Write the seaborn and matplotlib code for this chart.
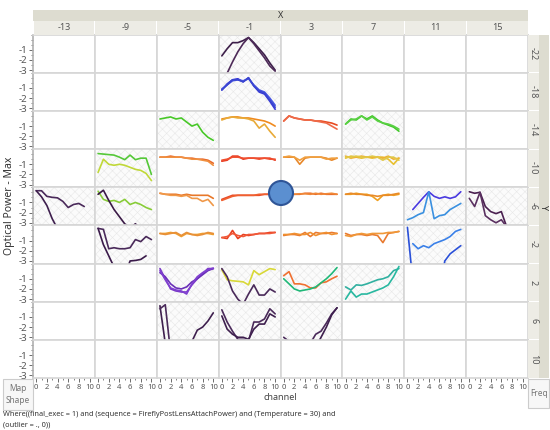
import numpy as np
import pandas as pd
import seaborn as sns
import matplotlib.pyplot as plt
from matplotlib.patches import Rectangle, Ellipse

sns.set_theme(style="white")
plt.rcParams['font.family'] = ['Noto Sans', 'DejaVu Sans']
plt.rcParams['axes.unicode_minus'] = False
plt.rcParams['hatch.linewidth'] = 0.4

# facet levels
x_levels = [-13, -9, -5, -1, 3, 7, 11, 15]
y_levels = [-22, -18, -14, -10, -6, -2, 2, 6, 10]
channel = list(range(11))

# one entry per drawn line: facet X, facet Y, power per channel
line_x = [-1, -1,
          -1, -1, -1,
          -5, -1, -1, 3, 3, 7, 7,
          -9, -9, -5, -5, -1, -1, 3, 3, 7, 7, 7,
          -13, -13, -9, -9, -5, -5, -1, -1, 3, 3, 7, 7, 11, 11, 15, 15,
          -9, -9, -5, -5, -1, -1, 3, 3, 7, 7, 11, 11,
          -5, -5, -5, -1, -1, 3, 3, 7, 7,
          -5, -5, -1, -1, 3, 3]
line_y = [-22, -22,
          -18, -18, -18,
          -14, -14, -14, -14, -14, -14, -14,
          -10, -10, -10, -10, -10, -10, -10, -10, -10, -10, -10,
          -6, -6, -6, -6, -6, -6, -6, -6, -6, -6, -6, -6, -6, -6, -6, -6,
          -2, -2, -2, -2, -2, -2, -2, -2, -2, -2, -2, -2,
          2, 2, 2, 2, 2, 2, 2, 2, 2,
          6, 6, 6, 6, 6, 6]
nan = np.nan
line_power = [
    # Y = -22
    [-1.6, -0.9, -0.3, -0.3, -0.1, 0.2, -0.3, -0.9, -1.5, -2.3, -3.0],
    [-4.5, -3.3, -2.2, -1.2, -0.4, 0.2, -0.4, -1.1, -1.8, -2.6, -3.1],
    # Y = -18
    [-1.2, -0.6, -0.2, -0.1, -0.4, 0.0, -0.8, -1.4, -1.6, -2.3, -3.1],
    [-1.1, -0.7, -0.3, -0.2, -0.3, -0.1, -0.7, -1.2, -1.4, -2.0, -2.7],
    [-1.2, -0.7, -0.2, -0.2, -0.4, 0.0, -0.8, -1.3, -1.5, -2.2, -2.9],
    # Y = -14
    [-0.3, -0.2, -0.1, -0.3, -0.2, -0.6, -1.0, -0.8, -1.6, -2.1, -2.4],
    [-0.3, -0.2, -0.1, -0.1, -0.2, -0.2, -0.3, -0.4, -0.5, -0.7, -1.0],
    [-0.4, -0.2, -0.1, -0.2, -0.2, -0.3, -0.5, -1.2, -0.8, -1.5, -2.1],
    [-0.5, 0.0, -0.2, -0.3, -0.4, -0.4, -0.5, -0.5, -0.6, -0.7, -0.9],
    [-0.5, 0.0, -0.2, -0.3, -0.4, -0.4, -0.5, -0.6, -0.7, -1.0, -1.3],
    [-0.8, -0.3, -0.4, 0.0, -0.3, 0.0, -0.4, -0.7, -0.9, -1.1, -1.5],
    [-0.8, -0.4, -0.3, 0.0, -0.4, -0.1, -0.5, -0.7, -0.8, -1.0, -1.3],
    # Y = -10
    [0.05, 0.0, -0.05, -0.1, -0.3, -0.55, -0.1, -0.55, -0.4, -0.4, -2.0],
    [-1.8, -0.5, -1.0, -1.1, -1.0, -1.1, -1.3, -1.5, -1.6, -1.9, -2.6],
    [-0.3, -0.3, -0.2, -0.3, -0.3, -0.4, -0.4, -0.5, -0.5, -0.6, -0.9],
    [-0.3, -0.3, -0.3, -0.3, -0.3, -0.4, -0.5, -0.5, -0.6, -0.7, -1.1],
    [-0.7, -0.6, -0.2, -0.2, -0.5, -0.4, -0.4, -0.4, -0.4, -0.4, -0.6],
    [-0.6, -0.5, -0.3, -0.3, -0.4, -0.4, -0.4, -0.5, -0.4, -0.5, -0.5],
    [-0.3, -0.3, -0.3, -1.0, -0.4, -0.3, -0.3, -0.3, -0.4, -0.6, -0.4],
    [-0.3, -0.2, -0.3, -0.6, -0.3, -0.3, -0.3, -0.3, -0.5, -0.4, -0.4],
    [-0.4, -0.2, -0.3, -0.4, -0.3, -0.4, -0.3, -0.3, -0.5, -1.0, -0.4],
    [-0.2, -0.4, -0.3, -0.2, -0.3, -0.3, -0.3, -0.4, -0.2, -0.5, -0.4],
    [-0.3, -0.3, -0.2, -0.3, -0.3, -0.2, -0.3, -0.6, -0.3, -0.3, -0.6],
    # Y = -6
    [0.15, 0.15, -0.4, -0.5, -0.55, -0.9, -1.5, -1.2, -1.1, -1.4, nan],
    [0.15, -0.45, -1.3, -2.6, -3.6, nan, nan, nan, nan, nan, nan],
    [0.1, -0.7, -0.9, -0.8, -1.0, -0.7, -1.2, -1.0, -1.2, -1.5, -1.7],
    [-0.2, 0.2, -0.8, -1.7, -2.4, -3.1, -3.5, -3.1, -3.6, nan, nan],
    [-0.1, -0.2, -0.2, -0.2, -0.3, -0.2, -0.3, -0.3, -0.3, -0.3, -0.6],
    [-0.1, -0.2, -0.3, -0.3, -0.4, -0.3, -0.6, -0.6, -0.9, -0.7, -1.3],
    [-0.7, -0.5, -0.3, -0.3, -0.3, -0.3, -0.3, -0.3, -0.2, -0.2, -0.2],
    [-0.8, -0.6, -0.4, -0.3, -0.3, -0.3, -0.3, -0.2, -0.2, -0.2, -0.2],
    [-0.1, -0.2, -0.2, -0.2, -0.1, -0.1, -0.2, -0.1, -0.2, -0.2, -0.2],
    [-0.15, -0.15, -0.2, -0.15, -0.15, -0.2, -0.1, -0.2, -0.15, -0.1, -0.2],
    [-0.2, -0.2, -0.1, -0.2, -0.2, -0.4, -0.8, -0.3, -0.2, -0.3, -0.2],
    [-0.2, -0.1, -0.2, -0.2, -0.3, -0.3, -0.4, -0.3, -0.3, -0.2, -0.1],
    [nan, -1.7, -1.1, -0.5, 0.05, -0.4, -0.6, -0.45, -0.6, -0.45, 0.05],
    [-2.7, -2.5, -2.2, -2.0, 0.05, -2.6, -2.3, -2.2, -1.7, -1.4, -1.1],
    [0.05, -0.1, 0.0, -1.4, -1.9, -2.1, -1.9, -3.4, -3.8, nan, nan],
    [-0.6, -1.4, 0.0, -2.3, -2.7, -3.0, -2.7, -3.4, -3.8, nan, nan],
    # Y = -2
    [0.2, 0.1, -1.8, -1.7, -1.8, -1.8, -1.7, -0.9, -1.1, -0.6, -0.9],
    [0.2, -1.4, -2.5, -3.6, -4.5, -4.5, -3.0, -2.95, -2.85, -2.5, nan],
    [-0.3, -0.3, -0.2, -0.3, -0.6, -0.3, -0.4, -0.4, -0.3, -0.3, -0.4],
    [-0.3, -0.4, -0.3, -0.2, -0.5, -0.2, -0.4, -0.5, -0.4, -0.2, -0.3],
    [-0.7, -0.8, 0.0, -0.8, -0.4, -0.5, -0.4, -0.3, -0.3, -0.2, -0.2],
    [-0.7, -0.6, -0.3, -0.5, -0.6, -0.4, -0.4, -0.3, -0.3, -0.3, -0.2],
    [-0.5, -0.4, -0.4, -0.5, -0.2, -0.6, -0.2, -0.3, -0.3, -0.2, -0.3],
    [-0.4, -0.4, -0.3, -0.4, -0.4, -0.2, -0.5, -0.3, -0.2, -0.4, -0.3],
    [-0.3, -0.5, -0.4, -0.4, -0.5, -0.4, -0.5, -1.2, -0.3, -0.2, -0.1],
    [-0.5, -0.6, -0.4, -0.3, -0.4, -0.3, -0.3, -0.3, -0.2, -0.2, -0.1],
    [0.3, -5.0, -6.0, -6.0, -6.0, -6.0, -6.0, -3.0, -2.3, -1.9, -1.5],
    [nan, -1.3, -1.8, -1.5, -1.7, -1.3, -1.1, -0.9, -0.6, -0.1, 0.1],
    # Y = 2
    [0.0, -1.0, -2.0, -2.2, -2.3, -2.3, -1.6, -1.0, -0.5, 0.0, 0.0],
    [-0.4, -0.8, -1.5, -1.9, -2.0, -1.8, -1.3, -1.0, -0.6, -0.2, 0.0],
    [-0.2, -1.1, -1.9, -2.1, -2.2, -2.5, -1.5, -0.8, -0.4, -0.1, 0.05],
    [-0.1, -1.1, -1.2, -1.25, -1.3, -1.6, -0.2, -0.6, -0.3, 0.0, -0.1],
    [0.0, -0.8, -2.2, -3.0, -3.5, -2.5, -1.6, -2.6, -2.6, -2.0, -2.3],
    [-0.7, -0.3, -1.5, -1.5, -1.6, -1.9, -1.9, -1.4, -1.3, -1.0, -0.75],
    [-1.0, -1.5, -2.0, -2.2, -2.1, -2.0, -1.8, -1.4, -1.0, -0.5, 0.1],
    [-1.8, -2.1, -1.6, -1.65, -1.5, -1.3, -1.1, -1.0, -0.8, -0.2, 0.0],
    [-3.0, -2.2, -2.8, -2.5, -2.5, -2.3, -2.1, -1.9, -1.6, -0.8, 0.2],
    # Y = 6
    [0.1, -3.6, -5.0, -5.0, -5.0, -5.0, -3.4, -2.3, -2.0, -1.4, -0.6],
    [-0.2, 0.2, -4.5, nan, nan, nan, nan, nan, nan, nan, nan],
    [-0.3, -1.5, -2.4, -3.2, -3.2, -3.4, -1.5, -1.5, -1.2, -0.2, -0.7],
    [-0.9, -2.2, -2.7, -3.0, -3.0, -3.2, -2.2, -1.7, -1.7, -0.7, -1.0],
    [-3.0, -3.4, -4.5, -5.0, -5.0, -3.6, -2.7, -2.4, -1.6, -0.7, -0.1],
    [nan, nan, nan, nan, nan, nan, -4.0, -3.0, -2.0, -0.8, -0.1],
]
line_color = [
    '#3d1f4a', '#4d2a58',
    '#3535d8', '#4a58e4', '#3a45d0',
    '#48c828', '#f08a1e', '#e8aa38', '#e84a20', '#ee6a48', '#40c828', '#5ad044',
    '#55c838', '#c0d838', '#e8682a', '#f09040', '#e83a20', '#f05030',
    '#e8882a', '#f0a040', '#e8c030', '#f0b030', '#e0c848',
    '#4a2a5a', '#3e1f4e', '#88cc38', '#3a1a46', '#e8782a', '#f09848',
    '#e84a28', '#f06030', '#e86a28', '#f08838', '#f0a020', '#e88a28',
    '#4a3ae0', '#3a90e0', '#4a2050', '#5a3060',
    '#4a2a5a', '#3a1a4a', '#f0a030', '#e89038', '#e84020', '#f05838',
    '#e87a30', '#f09030', '#e87a30', '#f09838', '#2a50d8', '#3a80e8',
    '#7a38c8', '#6a30b8', '#8040d0', '#d8d838', '#4a2a5a', '#f07030',
    '#20b878', '#30b0a0', '#28b8a0',
    '#3e1f4e', '#4a2a5a', '#4a2a5a', '#3e1f4e', '#4a2a5a', '#3e1f4e',
]
shaded_cells = [(-1, -22), (-1, -18), (-5, -14), (7, -14), (-9, -10), (7, -10),
                (-13, -6), (-9, -6), (11, -6), (15, -6), (-9, -2), (11, -2),
                (-5, 2), (-1, 2), (3, 2), (7, 2), (-5, 6), (-1, 6), (3, 6)]

rows = []
for i, (cx, cy, vals) in enumerate(zip(line_x, line_y, line_power)):
    for ch, v in zip(channel, vals):
        rows.append({'X': cx, 'Y': cy, 'line': 'L%d' % i, 'channel': ch, 'power': v})
df = pd.DataFrame(rows)
palette = {'L%d' % i: c for i, c in enumerate(line_color)}

W, H = 550, 430
L, R, T, B = 33, 528, 34.5, 378


def fx(x):
    return x / W


def fy(y):
    return 1 - y / H


fig = plt.figure(figsize=(5.5, 4.3), dpi=100)
gs = fig.add_gridspec(len(y_levels), len(x_levels), left=fx(L), right=fx(R),
                      top=fy(T), bottom=fy(B), wspace=0, hspace=0)
axes = gs.subplots(sharex=True, sharey=True)

for r, yv in enumerate(y_levels):
    for c, xv in enumerate(x_levels):
        ax = axes[r, c]
        if (xv, yv) in shaded_cells:
            ax.add_patch(Rectangle((0, 0), 1, 1, transform=ax.transAxes, facecolor='#fbfbfb',
                                   edgecolor='#e8e8e8', hatch='xxxx', lw=0, zorder=0))
        sub = df[(df.X == xv) & (df.Y == yv)].dropna()
        if len(sub):
            sns.lineplot(data=sub, x='channel', y='power', hue='line', palette=palette,
                         legend=False, lw=1.2, ax=ax, zorder=3)
        ax.set_xlabel('')
        ax.set_ylabel('')
        for s in ax.spines.values():
            s.set_color('#d6d6d6')
            s.set_linewidth(1.2)
        ax.tick_params(length=0)

ax0 = axes[0, 0]
ax0.set_xlim(-0.6, 11.0)
ax0.set_ylim(-3.25, 0.5)
ax0.set_yticks([-1, -2, -3])
ax0.set_yticks(np.arange(-3, 0.51, 0.5), minor=True)
ax0.set_xticks([0, 2, 4, 6, 8, 10])
ax0.set_xticks(range(11), minor=True)
for r in range(len(y_levels)):
    axes[r, 0].tick_params(axis='y', which='both', left=True, labelleft=True,
                           labelsize=7, colors='#555555', pad=1)
    axes[r, 0].tick_params(axis='y', which='major', length=3, width=0.6)
    axes[r, 0].tick_params(axis='y', which='minor', length=1.5, width=0.5)
    axes[r, 0].spines['left'].set_color('#b0b0b0')
for c in range(len(x_levels)):
    axes[-1, c].tick_params(axis='x', which='both', bottom=True, labelbottom=True,
                            labelsize=5.5, colors='#555555', pad=1)
    axes[-1, c].tick_params(axis='x', which='major', length=3, width=0.6)
    axes[-1, c].tick_params(axis='x', which='minor', length=1.5, width=0.5)

# header strips
fig.add_artist(Rectangle((fx(L), fy(21)), fx(R - L), 11 / H, transform=fig.transFigure,
                         facecolor='#dddcd0', edgecolor='none'))
fig.text(fx((L + R) / 2), fy(15.5), 'X', ha='center', va='center', fontsize=6.5,
         fontweight='bold', color='#333333')
cw = (R - L) / len(x_levels)
for c, xv in enumerate(x_levels):
    x0 = L + c * cw
    fig.add_artist(Rectangle((fx(x0 + 0.5), fy(T)), fx(cw - 1), (T - 21) / H,
                             transform=fig.transFigure, facecolor='#edece5', edgecolor='none'))
    fig.text(fx(x0 + cw / 2), fy(27.8), str(xv), ha='center', va='center', fontsize=6.5,
             color='#555555')
rh = (B - T) / len(y_levels)
for r, yv in enumerate(y_levels):
    y0 = T + r * rh
    fig.add_artist(Rectangle((fx(R), fy(y0 + rh - 0.5)), fx(11), (rh - 1) / H,
                             transform=fig.transFigure, facecolor='#edece5', edgecolor='none'))
    fig.text(fx(R + 5.5), fy(y0 + rh / 2), str(yv), ha='center', va='center', fontsize=6.5,
             color='#555555', rotation=270)
fig.add_artist(Rectangle((fx(R + 11), fy(B)), fx(10), (B - T) / H, transform=fig.transFigure,
                         facecolor='#dddcd0', edgecolor='none'))
fig.text(fx(R + 16), fy((T + B) / 2), 'Y', ha='center', va='center', fontsize=6.5,
         fontweight='bold', color='#333333', rotation=270)

fig.text(fx(10), fy((T + B) / 2), 'Optical Power - Max', ha='center', va='center',
         fontsize=7.5, color='#333333', rotation=90)
fig.text(fx((L + R) / 2), fy(397), 'channel', ha='center', va='center', fontsize=6.5,
         color='#444444')

# corner boxes
fig.add_artist(Rectangle((fx(3), fy(410)), fx(30), 31 / H, transform=fig.transFigure,
                         facecolor='#f7f7f7', edgecolor='#cccccc', lw=0.8))
fig.text(fx(18), fy(394.5), 'Map\nShape', ha='center', va='center', fontsize=6,
         color='#777777', linespacing=1.3)
fig.add_artist(Rectangle((fx(R), fy(408)), fx(W - R - 1), 29 / H, transform=fig.transFigure,
                         facecolor='#f7f7f7', edgecolor='#cccccc', lw=0.8))
fig.text(fx(R + 11), fy(393.5), 'Freq', ha='center', va='center', fontsize=6, color='#777777')

fig.text(fx(3), fy(414), 'Where((final_exec = 1) and (sequence = FireflyPostLensAttachPower) '
         'and (Temperature = 30) and', ha='left', va='center', fontsize=5.3, color='#333333')
fig.text(fx(3), fy(425), '(outlier = ., 0))', ha='left', va='center', fontsize=5.3,
         color='#333333')

# blue marker circle
fig.add_artist(Ellipse((fx(281), fy(193)), 24 / W, 24 / H, transform=fig.transFigure,
                       facecolor='#5b8fd0', edgecolor='#2f5597', lw=1.5, zorder=10))

fig.savefig('out.png', dpi=100)
